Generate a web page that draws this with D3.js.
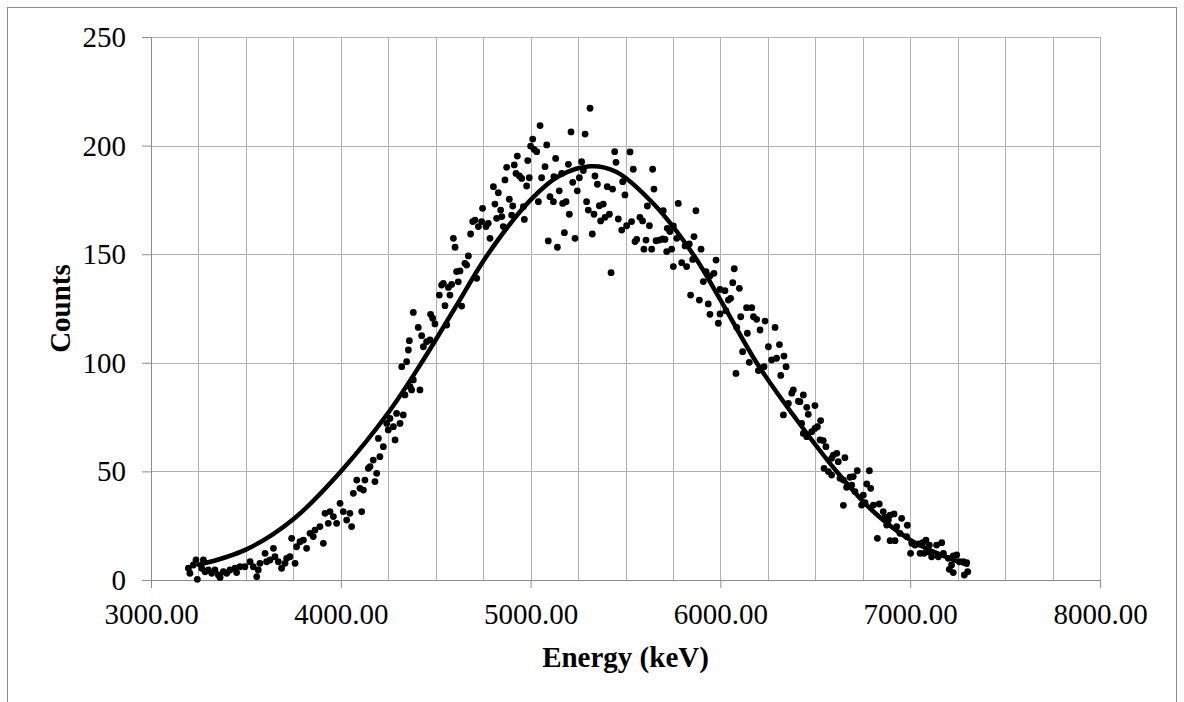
<!DOCTYPE html>
<html><head><meta charset="utf-8">
<script src="https://cdn.jsdelivr.net/npm/d3@7"></script>
<style>body{margin:0;background:#fff}svg{display:block}</style>
</head><body>
<svg id="chart" width="1184" height="702"></svg>
<script>
// Measured spectrum (energy in keV, counts)
const energy = [
3197,3205,3223,3237,3244,3267,3276,3285,3302,3320,3337,3355,3364,3381,3399,3416,3443,3451,3469,3495,
3522,3539,3557,3565,3574,3601,3609,3627,3645,3653,3671,3688,3706,3715,3732,3741,3759,3767,3785,3803,
3820,3838,3855,3864,3890,3908,3917,3934,3943,3961,3978,3996,4013,4031,4048,4057,4066,4084,4101,4110,
4119,4127,4145,4154,4171,4180,4189,4198,4206,4224,4242,4250,4259,4277,4286,4294,4312,4329,4338,4365,
4373,4382,4417,
4321,4347,4356,4361,4382,4408,4426,4435,4452,4470,4473,4484,4496,4519,4531,4540,4549,4558,4567,4575,
4584,4593,4602,4610,4619,4628,4637,4654,4663,4672,4684,4695,4707,4716,4725,
4747,4742,4765,4777,4786,4804,4812,4821,4830,4842,4848,4856,4865,4874,4888,4900,4906,4914,4923,4930,
4941,4953,4962,4967,4979,4985,4993,5000,5011,5018,5032,5041,5050,5058,5076,5085,5093,5102,5120,5123,
5132,5141,5151,5164,5169,5178,5187,5199,5204,5213,5222,5234,5246,5257,5269,5278,5287,5295,5304,5313,
5325,5334,5339,5352,5362,5369,5383,5392,5404,5415,5424,5432,5443,5450,5462,5480,5485,5497,5506,5524,
5532,5541,5550,5559,
5643,5650,5615,5576,5590,5626,5699,5778,5871,5720,5734,5608,5597,5638,5661,5678,5696,5708,5717,5743,
5752,5770,5796,5822,5814,5836,5861,5854,5898,5752,5924,5910,5945,5966,5977,5998,6024,6042,6054,6073,
6065,6100,5843,5889,5936,5945,5989,5998,6029,6107,6138,6165,6174,6191,6235,6086,6142,6209,6288,6117,
6152,6200,6230,6253,6270,6296,6311,6335,6346,6318,6082,6384,6376,6358,6411,6332,
6437,6419,6455,6463,6498,6428,6437,6455,6481,6498,6511,6528,6525,6542,6556,6586,6595,6613,6621,6656,
6546,6569,6586,6630,6648,6683,6700,6721,6785,6692,6665,6709,6753,6771,6792,6648,6744,6762,6806,6837,
6858,6867,6885,6894,6915,6876,6929,6955,6985,6894,6920,6827,6946,6981,7008,7025,7043,7066,7083,7101,
7139,7166,7002,7052,7073,7096,7113,7148,7175,7201,7227,7245,7259,7280,7298,7206,7227,7285,7303,7218
];
const counts = [
5.4,3.1,6.9,9.2,0.3,5.4,9.2,3.8,4.6,3.1,4.6,2.3,1.2,3.8,3.1,4.6,5.4,3.4,6.1,6.1,
8.4,6.1,1.5,4.6,7.7,12.3,8.4,9.2,14.6,10.7,8.4,5.4,7.7,10.0,10.7,19.2,7.7,15.3,17.6,18.4,
14.6,21.5,20.0,23.0,24.6,16.9,30.7,26.1,31.5,29.2,26.1,35.3,31.5,27.6,30.7,24.6,39.9,46.0,42.2,31.5,
41.4,46.0,51.4,52.2,55.2,45.3,49.1,65.2,56.8,61.4,72.1,69.1,74.4,70.6,64.5,76.7,72.1,76.0,85.2,89.0,
87.5,92.1,87.5,
98.2,100.5,105.9,110.2,123.2,116.3,112.5,107.4,109.7,110.5,122.3,120.5,117.9,131.2,135.8,136.6,126.3,117.4,134.7,131.2,
136.1,157.3,153.2,142.0,137.3,142.3,126.1,145.8,145.0,149.2,159.3,165.0,165.7,138.9,162.7,
171.1,165.0,162.7,164.2,157.3,181.1,173.1,166.5,178.3,170.3,167.3,162.7,184.2,190.0,175.3,168.0,172.2,191.1,187.2,195.2,
186.0,184.9,171.9,166.0,181.4,193.1,185.2,199.8,203.0,198.3,197.2,174.2,209.2,185.2,190.3,200.3,156.1,176.5,174.2,185.7,
194.1,153.2,179.2,187.2,173.4,159.9,174.2,191.4,168.4,206.3,183.1,157.3,179.2,185.2,192.6,188.5,205.3,174.2,170.3,217.2,
159.3,168.4,186.0,182.2,172.3,165.3,173.1,167.0,181.1,168.4,141.5,180.0,197.2,192.3,166.2,161.1,183.4,177.3,163.1,197.1,
165.0,189.1,155.8,156.8,
189.1,180.0,172.2,167.0,165.3,163.1,170.0,173.4,170.0,161.9,160.4,156.5,152.3,152.3,156.2,156.5,157.0,156.8,151.2,152.3,
144.3,157.3,146.1,144.3,153.8,154.7,158.1,147.6,152.3,163.0,142.0,137.4,140.0,141.2,147.3,133.8,133.2,128.9,129.7,143.3,
136.9,134.3,131.2,128.9,127.1,122.3,118.2,122.5,124.0,121.2,125.4,125.4,121.2,120.0,119.2,116.3,113.6,115.1,116.3,105.1,
100.2,96.4,98.2,107.4,101.3,102.1,108.4,103.1,98.2,94.2,95.1,87.5,86.0,81.3,82.3,76.0,
85.2,82.1,79.5,76.3,80.3,72.1,67.5,66.0,68.3,69.8,70.6,73.4,64.5,64.2,61.4,56.0,57.5,58.3,54.5,56.3,
51.4,49.9,48.3,46.8,46.0,47.3,47.6,50.3,50.3,43.7,42.7,40.7,39.1,44.2,42.2,34.4,34.5,35.6,34.5,35.0,
31.5,28.9,27.6,29.9,30.4,25.3,24.6,28.4,25.2,18.1,18.1,19.2,21.5,20.0,16.9,16.1,16.6,17.2,18.4,16.1,
16.1,17.2,12.3,12.3,12.3,13.0,10.7,10.7,12.3,10.0,11.1,11.5,8.4,8.4,8.0,4.9,3.4,2.3,3.8,6.9
];
// Fitted trend curve
const fitEnergy = [3250,3500,3750,4000,4250,4425,4600,4775,5000,5150,5315,5450,5650,5856,6000,6191,6400,6612,6800,7000,7150,7300];
const fitCounts = [7,14,28,50,77,100,125,150,175,186,190.5,188,173,150,129,100,74,50,32,18.5,12,7];
// Axis ticks and gridlines
const xTicks = [3000,4000,5000,6000,7000,8000];
const xGrid = [3000,3250,3500,3750,4000,4250,4500,4750,5000,5250,5500,5750,6000,6250,6500,6750,7000,7250,7500,7750,8000];
const yTicks = [0,50,100,150,200,250];

const svg = d3.select('#chart');
const FONT = '"Liberation Serif","Times New Roman",serif';
const L = 151, R = 1100, T = 37, B = 580;
const x = d3.scaleLinear().domain([3000, 8000]).range([L, R]);
const y = d3.scaleLinear().domain([0, 250]).range([B, T]);

// outer border
svg.append('rect').attr('x', 7.5).attr('y', 7.5).attr('width', 1169).attr('height', 720)
  .attr('fill', 'none').attr('stroke', '#8c8c8c').attr('stroke-width', 1);

const grid = svg.append('g').attr('stroke', '#b0b0b0').attr('stroke-width', 1).attr('shape-rendering', 'crispEdges');
grid.selectAll('.vg').data(xGrid).join('line')
  .attr('x1', d => Math.round(x(d)) + 0.5).attr('x2', d => Math.round(x(d)) + 0.5)
  .attr('y1', T).attr('y2', B);
grid.selectAll('.hg').data(yTicks).join('line')
  .attr('x1', L).attr('x2', R)
  .attr('y1', d => Math.round(y(d)) + 0.5).attr('y2', d => Math.round(y(d)) + 0.5);

// axes
const xAxis = d3.axisBottom(x).tickValues(xTicks).tickFormat(d3.format('.2f')).tickSize(8).tickSizeOuter(0);
const gx = svg.append('g').attr('transform', `translate(0,${B})`).call(xAxis);
gx.select('.domain').attr('stroke', '#8c8c8c');
gx.selectAll('.tick line').attr('stroke', '#8c8c8c');
gx.selectAll('.tick text').attr('fill', '#000').attr('font-family', FONT).attr('font-size', 29)
  .attr('y', 44).attr('dy', 0);

const yAxis = d3.axisLeft(y).tickValues(yTicks).tickSize(9).tickSizeOuter(0);
const gy = svg.append('g').attr('transform', `translate(${L},0)`).call(yAxis);
gy.select('.domain').attr('stroke', '#8c8c8c');
gy.selectAll('.tick line').attr('stroke', '#8c8c8c');
gy.selectAll('.tick text').attr('fill', '#000').attr('font-family', FONT).attr('font-size', 29)
  .attr('x', -25).attr('dy', '0.33em');

// scatter points
svg.append('g').selectAll('circle').data(energy.map((e, i) => [e, counts[i]])).join('circle')
  .attr('cx', d => x(d[0])).attr('cy', d => y(d[1])).attr('r', 3.4).attr('fill', '#000');

// fitted curve
const line = d3.line().x(d => x(d[0])).y(d => y(d[1])).curve(d3.curveCatmullRom.alpha(0.5));
svg.append('path').datum(fitEnergy.map((e, i) => [e, fitCounts[i]]))
  .attr('d', line).attr('fill', 'none').attr('stroke', '#000').attr('stroke-width', 4.5)
  .attr('stroke-linecap', 'round');

// axis titles
svg.append('text').attr('x', (L + R) / 2).attr('y', 667).attr('text-anchor', 'middle')
  .attr('font-family', FONT).attr('font-size', 29).attr('font-weight', 'bold').text('Energy (keV)');
svg.append('text').attr('transform', `translate(69.5,${(T + B) / 2}) rotate(-90)`).attr('text-anchor', 'middle')
  .attr('font-family', FONT).attr('font-size', 29).attr('font-weight', 'bold').text('Counts');
</script>
</body></html>
